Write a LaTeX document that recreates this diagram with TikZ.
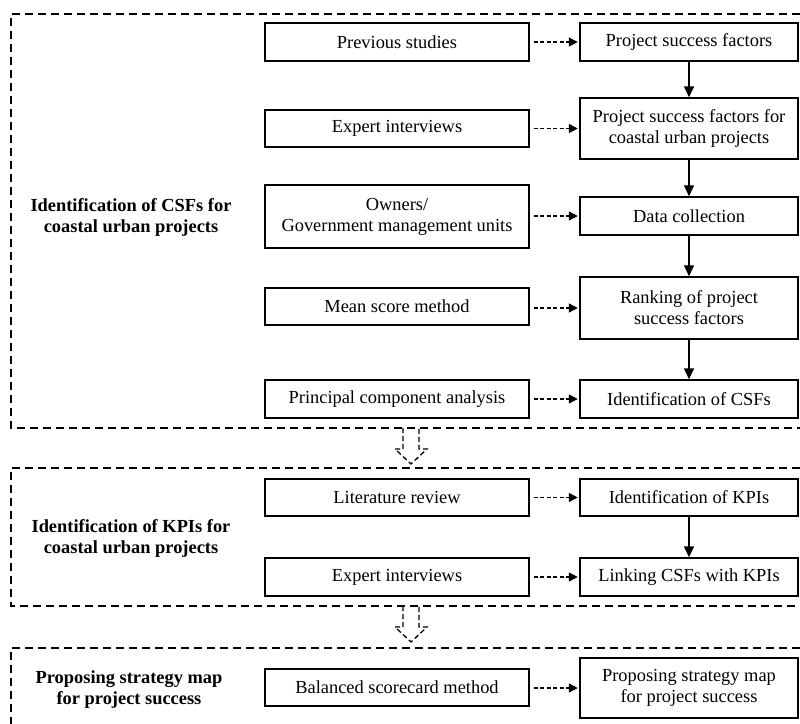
\documentclass[tikz,border=0pt]{standalone}
\usepackage{fontspec}
\setmainfont{Liberation Serif}
\usetikzlibrary{arrows.meta}
\begin{document}
\begin{tikzpicture}[x=1pt,y=-1pt,
  every node/.style={font=\fontsize{18.4}{21}\selectfont},
  lbox/.style={draw,line width=1.5pt,minimum width=264pt,align=center,inner sep=0pt},
  rbox/.style={draw,line width=1.5pt,minimum width=218pt,align=center,inner sep=0pt},
  frame/.style={line width=1.3pt,dash pattern=on 8pt off 5pt},
  dasharrow/.style={line width=1.4pt,dash pattern=on 4pt off 2.5pt,-{Triangle[length=9pt,width=9pt]},shorten <=4pt,shorten >=1.5pt},
  solidarrow/.style={line width=1.6pt,-{Triangle[length=11pt,width=10pt]}},
  hollow/.style={line width=1.3pt,dash pattern=on 5pt off 3pt},
  sectlabel/.style={align=center,font=\fontsize{18.4}{21}\selectfont\bfseries}]
\useasboundingbox (0,0) rectangle (800,723);
\fill[white] (0,0) rectangle (800,723);

% frames
\draw[frame] (800,14) -- (11,14) -- (11,428) -- (800,428);
\draw[frame] (800,468) -- (11,468) -- (11,606) -- (800,606);
\draw[frame] (800,648) -- (11,648) -- (11,730);

% section labels
\node[sectlabel] (s1) at (131,217) {Identification of CSFs for\\coastal urban projects};
\node[sectlabel] (s2) at (131,538) {Identification of KPIs for\\coastal urban projects};
\node[sectlabel] (s3) at (129,690) {Proposing strategy map\\for project success};

% left boxes
\node[lbox,minimum height=38pt] (l1) at (397,42) {Previous studies};
\node[lbox,minimum height=37pt] (l2) at (397,128.5) {Expert interviews};
\node[lbox,minimum height=63pt] (l3) at (397,216.5) {Owners/\\Government management units};
\node[lbox,minimum height=37pt] (l4) at (397,306.5) {Mean score method};
\node[lbox,minimum height=38pt] (l5) at (397,399) {Principal component analysis};
\node[lbox,minimum height=37pt] (l6) at (397,497.5) {Literature review};
\node[lbox,minimum height=38pt] (l7) at (397,577) {Expert interviews};
\node[lbox,minimum height=37pt] (l8) at (397,687.5) {Balanced scorecard method};

% right boxes
\node[rbox,minimum height=38pt] (r1) at (689,42) {Project success factors};
\node[rbox,minimum height=61pt] (r2) at (689,128.5) {Project success factors for\\coastal urban projects};
\node[rbox,minimum height=38pt] (r3) at (689,216) {Data collection};
\node[rbox,minimum height=62pt] (r4) at (689,308) {Ranking of project\\success factors};
\node[rbox,minimum height=38pt] (r5) at (689,399) {Identification of CSFs};
\node[rbox,minimum height=37pt] (r6) at (689,497.5) {Identification of KPIs};
\node[rbox,minimum height=38pt] (r7) at (689,577) {Linking CSFs with KPIs};
\node[rbox,minimum height=60pt] (r8) at (689,688) {Proposing strategy map\\for project success};

% dashed arrows
\foreach \i in {1,...,8} {
  \draw[dasharrow] (l\i.east |- r\i.center) -- (r\i.west);
}

% solid arrows
\draw[solidarrow] (r1) -- (r2);
\draw[solidarrow] (r2) -- (r3);
\draw[solidarrow] (r3) -- (r4);
\draw[solidarrow] (r4) -- (r5);
\draw[solidarrow] (r6) -- (r7);

% hollow arrows between sections
\draw[hollow] (403,428) -- (403,449) -- (395,449) -- (411,464) -- (427,449) -- (419,449) -- (419,428);
\draw[hollow] (403,606) -- (403,627) -- (395,627) -- (411,642) -- (427,627) -- (419,627) -- (419,606);
\end{tikzpicture}
\end{document}
